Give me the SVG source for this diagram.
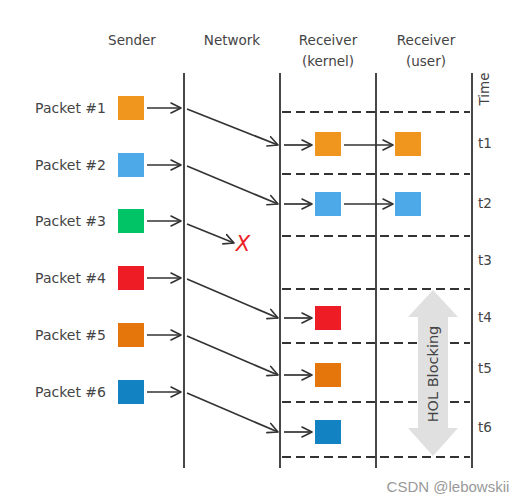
<svg xmlns="http://www.w3.org/2000/svg" width="521" height="502" viewBox="0 0 521 502">
<defs>
<marker id="ah" viewBox="0 0 12 12" refX="11" refY="6" markerWidth="12" markerHeight="12" markerUnits="userSpaceOnUse" orient="auto">
<path d="M1,1 L11,6 L1,11" fill="none" stroke="#333" stroke-width="1.6" stroke-linecap="round" stroke-linejoin="round"/>
</marker>
<style>
.t{font-family:"DejaVu Sans","Liberation Sans",sans-serif;font-size:13.5px;fill:#444}
.pl{font-family:"DejaVu Sans","Liberation Sans",sans-serif;font-size:14px;fill:#444;text-anchor:end}
.h{text-anchor:middle}
.v{stroke:#333;stroke-width:1.8;fill:none}
.d{stroke:#333;stroke-width:2;stroke-dasharray:9 5;fill:none}
.a{stroke:#333;stroke-width:1.7;fill:none;marker-end:url(#ah)}
</style>
</defs>
<rect width="521" height="502" fill="#fff"/>
<g id="headers">
<text class="t h" x="132" y="45">Sender</text>
<text class="t h" x="232" y="45">Network</text>
<text class="t h" x="328" y="45">Receiver</text>
<text class="t h" x="328" y="66">(kernel)</text>
<text class="t h" x="426" y="45">Receiver</text>
<text class="t h" x="426" y="66">(user)</text>
<text class="t h" transform="translate(489,89) rotate(-90)">Time</text>
</g>
<g id="lanes">
<line class="v" x1="184" y1="73" x2="184" y2="468"/>
<line class="v" x1="280" y1="73" x2="280" y2="468"/>
<line class="v" x1="376" y1="73" x2="376" y2="468"/>
<line class="v" x1="472" y1="73" x2="472" y2="468"/>
<line class="d" x1="282" y1="112" x2="470" y2="112"/>
<line class="d" x1="282" y1="174" x2="470" y2="174"/>
<line class="d" x1="282" y1="236" x2="470" y2="236"/>
<line class="d" x1="282" y1="289" x2="470" y2="289"/>
<line class="d" x1="282" y1="343" x2="470" y2="343"/>
<line class="d" x1="282" y1="402" x2="470" y2="402"/>
<line class="d" x1="282" y1="457" x2="470" y2="457"/>
</g>
<g id="time-labels">
<text class="t" x="478" y="148">t1</text>
<text class="t" x="478" y="208">t2</text>
<text class="t" x="478" y="265">t3</text>
<text class="t" x="478" y="322">t4</text>
<text class="t" x="478" y="373">t5</text>
<text class="t" x="478" y="432">t6</text>
</g>
<g id="hol-blocking">
<path d="M433,290 L458,317 L448,317 L448,428 L458,428 L433,456 L408,428 L418,428 L418,317 L408,317 Z" fill="#e0e0e0"/>
<text class="t h" style="font-size:14.5px" transform="translate(438,374) rotate(-90)">HOL Blocking</text>
</g>
<g id="packet1">
<text class="pl" x="106" y="113">Packet #1</text>
<rect x="118" y="96" width="26" height="24" fill="#F0961E"/>
</g>
<g id="packet2">
<text class="pl" x="106" y="170">Packet #2</text>
<rect x="118" y="153" width="26" height="24" fill="#4DA9E8"/>
</g>
<g id="packet3">
<text class="pl" x="106" y="226">Packet #3</text>
<rect x="118" y="209" width="26" height="24" fill="#00C466"/>
</g>
<g id="packet4">
<text class="pl" x="106" y="283">Packet #4</text>
<rect x="118" y="266" width="26" height="24" fill="#EE1C25"/>
</g>
<g id="packet5">
<text class="pl" x="106" y="340">Packet #5</text>
<rect x="118" y="323" width="26" height="24" fill="#E5760B"/>
</g>
<g id="packet6">
<text class="pl" x="106" y="397">Packet #6</text>
<rect x="118" y="380" width="26" height="24" fill="#1282C2"/>
</g>
<g id="kernel-boxes">
<rect x="315" y="132" width="26" height="24" fill="#F0961E"/>
<rect x="315" y="192" width="26" height="24" fill="#4DA9E8"/>
<rect x="315" y="306" width="26" height="24" fill="#EE1C25"/>
<rect x="315" y="363" width="26" height="24" fill="#E5760B"/>
<rect x="315" y="420" width="26" height="24" fill="#1282C2"/>
</g>
<g id="user-boxes">
<rect x="395" y="132" width="26" height="24" fill="#F0961E"/>
<rect x="395" y="192" width="26" height="24" fill="#4DA9E8"/>
</g>
<g id="lost">
<text x="243" y="251" font-family="DejaVu Sans, sans-serif" font-size="21" font-style="italic" fill="#EE1C25" text-anchor="middle">X</text>
</g>
<g id="connectors">
<line class="a" x1="147" y1="108" x2="181" y2="108"/>
<line class="a" x1="147" y1="165" x2="181" y2="165"/>
<line class="a" x1="147" y1="221" x2="181" y2="221"/>
<line class="a" x1="147" y1="278" x2="181" y2="278"/>
<line class="a" x1="147" y1="335" x2="181" y2="335"/>
<line class="a" x1="147" y1="392" x2="181" y2="392"/>
<line class="a" x1="187" y1="109" x2="278" y2="145"/>
<line class="a" x1="187" y1="166" x2="278" y2="204"/>
<line class="a" x1="187" y1="224" x2="234" y2="243"/>
<line class="a" x1="187" y1="279" x2="278" y2="318"/>
<line class="a" x1="187" y1="336" x2="278" y2="375"/>
<line class="a" x1="187" y1="393" x2="278" y2="432"/>
<line class="a" x1="284" y1="145" x2="312" y2="145"/>
<line class="a" x1="284" y1="204" x2="312" y2="204"/>
<line class="a" x1="284" y1="318" x2="312" y2="318"/>
<line class="a" x1="284" y1="375" x2="312" y2="375"/>
<line class="a" x1="284" y1="432" x2="312" y2="432"/>
<line class="a" x1="344" y1="145" x2="393" y2="145"/>
<line class="a" x1="344" y1="204" x2="393" y2="204"/>
</g>
<text x="448" y="492" font-family="Liberation Sans, Arial, sans-serif" font-size="15" fill="#999" text-anchor="middle">CSDN @lebowskii</text>
</svg>
